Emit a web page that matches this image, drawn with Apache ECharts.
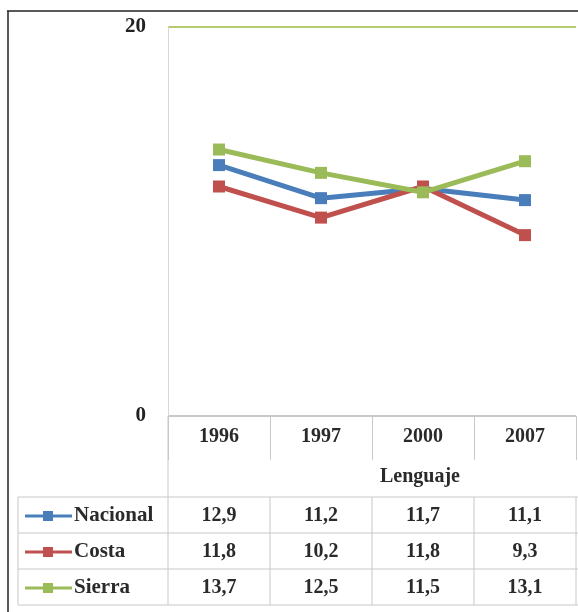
<!DOCTYPE html>
<html>
<head>
<meta charset="utf-8">
<script src="https://cdn.jsdelivr.net/npm/echarts@6/dist/echarts.min.js"></script>
<style>
html,body{margin:0;padding:0;background:#fff;}
#c{width:578px;height:612px;}
</style>
</head>
<body>
<div id="c"></div>
<script>
const years = ['1996', '1997', '2000', '2007'];
const nacional = [12.9, 11.2, 11.7, 11.1];
const costa = [11.8, 10.2, 11.8, 9.3];
const sierra = [13.7, 12.5, 11.5, 13.1];
const seriesNames = ['Nacional', 'Costa', 'Sierra'];
const axisTitle = 'Lenguaje';
const yTicks = [0, 20];

const colors = ['#4a7ebb', '#c0504d', '#9bbb59'];
const font = '"Liberation Serif", "Times New Roman", serif';
const chart = echarts.init(document.getElementById('c'));

const seriesData = [nacional, costa, sierra];
chart.setOption({
  animation: false,
  grid: {left: 168, right: 2, top: 27, bottom: 196},
  xAxis: {
    type: 'category', data: years, boundaryGap: true,
    axisLine: {show: true, lineStyle: {color: '#c8c8c8', width: 1}},
    axisTick: {show: true, length: 44, lineStyle: {color: '#c8c8c8'}},
    axisLabel: {margin: 11, fontFamily: font, fontWeight: 'bold', fontSize: 20, color: '#2a2a2a'}
  },
  yAxis: {
    type: 'value', min: yTicks[0], max: yTicks[1], interval: 20,
    axisLine: {show: true, lineStyle: {color: '#d8d8d8'}},
    axisTick: {show: false},
    splitLine: {show: true, lineStyle: {color: ['#c8c8c8', '#b3cb6e'], width: 2}},
    axisLabel: {margin: 22, fontFamily: font, fontWeight: 'bold', fontSize: 21, color: '#222'}
  },
  series: seriesNames.map((n, i) => ({
    name: n, type: 'line', data: seriesData[i],
    symbol: 'rect', symbolSize: 12,
    lineStyle: {color: colors[i], width: 5},
    itemStyle: {color: colors[i]},
    z: 3 + (i === 2 ? 1 : 0)
  }))
});

// Build data table below the axis
const g = [];
const lineC = '#c8c8c8';
const L = (x1, y1, x2, y2, c, w) => g.push({type: 'line', shape: {x1, y1, x2, y2}, style: {stroke: c || lineC, lineWidth: w || 1}, silent: true});
const T = (x, y, text, align, size) => g.push({type: 'text', x, y, style: {text, fill: '#2a2a2a', font: 'bold ' + (size || 20) + 'px ' + font, textAlign: align || 'center', textVerticalAlign: 'middle'}, silent: true});

const xs = years.map(y => chart.convertToPixel({xAxisIndex: 0}, y));
const band = xs[1] - xs[0];
const left = xs[0] - band / 2, right = xs[xs.length - 1] + band / 2;
const rowTop = 497, rowH = 36;

// outer frame
L(7, 11, 578, 11, '#222', 1.5);
L(8, 11, 8, 612, '#222', 1.5);

// left plot edge continues through header
L(left, 416, left, rowTop, lineC);
T(420, 477, axisTitle, 'center', 20);

for (let r = 0; r <= 3; r++) L(18, rowTop + r * rowH, 578, rowTop + r * rowH);
L(18, rowTop, 18, rowTop + 3 * rowH);
for (let k = 0; k <= years.length; k++) {
  const x = left + k * band;
  L(x, rowTop, x, rowTop + 3 * rowH);
}
seriesNames.forEach((n, r) => {
  const cy = rowTop + r * rowH + rowH / 2 + 1;
  L(25, cy, 72, cy, colors[r], 3);
  g.push({type: 'rect', shape: {x: 43, y: cy - 5, width: 10, height: 10}, style: {fill: colors[r]}, silent: true});
  T(74, cy, n, 'left', 21);
  seriesData[r].forEach((v, i) => T(xs[i], cy, v.toFixed(1).replace('.', ','), 'center', 20));
});
chart.setOption({graphic: g});
</script>
</body>
</html>
